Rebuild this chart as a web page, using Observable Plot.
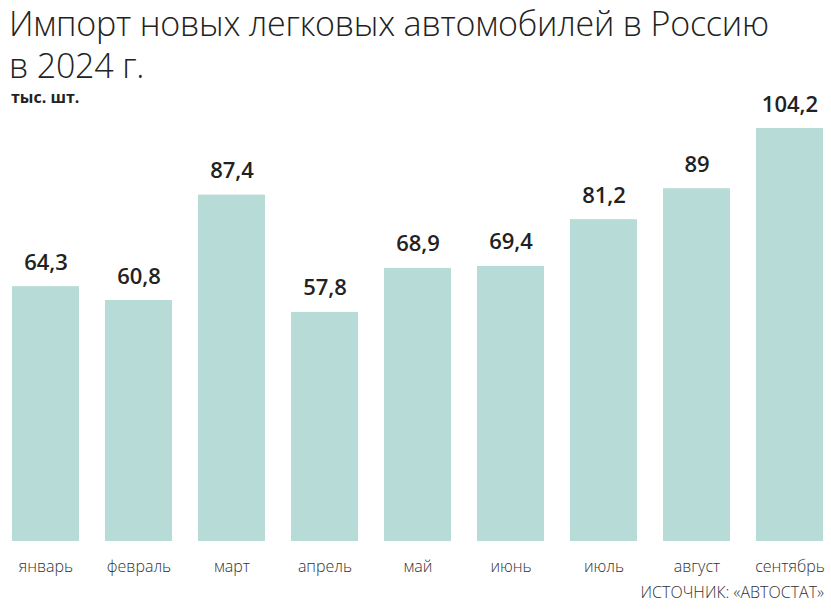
<!DOCTYPE html>
<html>
<head>
<meta charset="utf-8">
<script src="https://cdn.jsdelivr.net/npm/d3@7"></script>
<script src="https://cdn.jsdelivr.net/npm/@observablehq/plot@0.6"></script>
<style>
  html, body { margin: 0; padding: 0; background: #fff; }
  #wrap { position: relative; width: 831px; height: 610px; overflow: hidden; font-family: "Open Sans", sans-serif; }
  .title { position: absolute; left: 9px; font-size: 34px; font-weight: 300; line-height: 40px; color: #222; letter-spacing: -0.2px; white-space: nowrap; }
  #t1 { top: 3px; }
  #t2 { top: 45px; }
  #unit { position: absolute; left: 11px; top: 88px; font-size: 16px; font-weight: 700; line-height: 18px; color: #222; }
  #chart { position: absolute; left: 0; top: 80px; }
  #source { position: absolute; right: 7px; top: 581px; font-size: 16px; font-weight: 300; color: #333; }
</style>
</head>
<body>
<div id="wrap">
  <div class="title" id="t1">Импорт новых легковых автомобилей в Россию</div>
  <div class="title" id="t2">в 2024 г.</div>
  <div id="unit">тыс. шт.</div>
  <div id="chart"></div>
  <div id="source">ИСТОЧНИК: «АВТОСТАТ»</div>
</div>
<script>
const months = ["январь", "февраль", "март", "апрель", "май", "июнь", "июль", "август", "сентябрь"];
const values = [64.3, 60.8, 87.4, 57.8, 68.9, 69.4, 81.2, 89, 104.2];
const labels = ["64,3", "60,8", "87,4", "57,8", "68,9", "69,4", "81,2", "89", "104,2"];

const data = months.map((m, i) => ({month: m, value: values[i], label: labels[i]}));

const chart = Plot.plot({
  width: 831,
  height: 530,
  marginLeft: 11,
  marginRight: 7,
  marginTop: 48,
  marginBottom: 69,
  style: {fontFamily: "Open Sans, sans-serif", overflow: "visible"},
  x: {domain: months, paddingInner: 0.28, paddingOuter: 0, label: null},
  y: {domain: [0, 104.2], axis: null},
  marks: [
    Plot.barY(data, {x: "month", y: "value", fill: "#b7dbd6"}),
    Plot.text(data, {x: "month", y: "value", text: "label", dy: -17, lineAnchor: "bottom", fontSize: 22, fontWeight: 600, fill: "#222"}),
    Plot.axisX({tickSize: 0, tickPadding: 19, fontSize: 16, fontWeight: 300, color: "#333", label: null})
  ]
});
document.getElementById("chart").appendChild(chart);
</script>
</body>
</html>
